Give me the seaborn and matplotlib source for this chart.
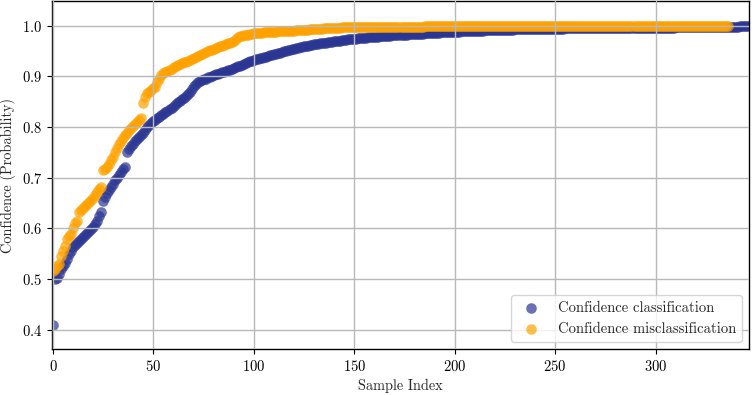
import pandas as pd
import matplotlib.pyplot as plt
import seaborn as sns
import numpy as np

# sorted confidence values
conf_classification = [
    0.410, 0.500, 0.502, 0.510, 0.519, 0.525, 0.531, 0.540, 0.549, 0.556,
    0.564, 0.568, 0.572, 0.576, 0.580, 0.583, 0.587, 0.591, 0.595, 0.599,
    0.603, 0.608, 0.615, 0.625, 0.632, 0.655, 0.662, 0.670, 0.676, 0.682,
    0.688, 0.695, 0.700, 0.706, 0.712, 0.717, 0.722, 0.750, 0.757, 0.762,
    0.767, 0.772, 0.776, 0.780, 0.784, 0.788, 0.795, 0.800, 0.804, 0.808,
    0.812, 0.815, 0.818, 0.820, 0.823, 0.826, 0.829, 0.832, 0.835, 0.838,
    0.842, 0.846, 0.849, 0.852, 0.855, 0.858, 0.862, 0.866, 0.870, 0.875,
    0.882, 0.886, 0.889, 0.891, 0.893, 0.895, 0.896, 0.898, 0.899, 0.901,
    0.902, 0.904, 0.905, 0.906, 0.908, 0.909, 0.910, 0.912, 0.913, 0.915,
    0.916, 0.918, 0.920, 0.921, 0.923, 0.925, 0.926, 0.928, 0.930, 0.931,
    0.933, 0.934, 0.935, 0.936, 0.937, 0.938, 0.939, 0.940, 0.942, 0.943,
    0.944, 0.945, 0.946, 0.947, 0.948, 0.950, 0.951, 0.952, 0.953, 0.954,
    0.955, 0.956, 0.957, 0.958, 0.959, 0.960, 0.961, 0.961, 0.962, 0.963,
    0.964, 0.964, 0.965, 0.966, 0.966, 0.967, 0.967, 0.968, 0.969, 0.969,
    0.970, 0.970, 0.971, 0.971, 0.972, 0.972, 0.972, 0.973, 0.973, 0.974,
    0.974, 0.974, 0.975, 0.975, 0.975, 0.976, 0.976, 0.977, 0.977, 0.977,
    0.978, 0.978, 0.978, 0.979, 0.979, 0.979, 0.980, 0.980, 0.980, 0.981,
    0.981, 0.981, 0.981, 0.982, 0.982, 0.982, 0.982, 0.983, 0.983, 0.983,
    0.983, 0.984, 0.984, 0.984, 0.984, 0.985, 0.985, 0.985, 0.985, 0.986,
    0.986, 0.986, 0.986, 0.987, 0.987, 0.987, 0.987, 0.987, 0.988, 0.988,
    0.988, 0.988, 0.988, 0.989, 0.989, 0.989, 0.989, 0.989, 0.989, 0.990,
    0.990, 0.990, 0.990, 0.990, 0.990, 0.991, 0.991, 0.991, 0.991, 0.991,
    0.991, 0.991, 0.992, 0.992, 0.992, 0.992, 0.992, 0.992, 0.992, 0.992,
    0.993, 0.993, 0.993, 0.993, 0.993, 0.993, 0.993, 0.993, 0.993, 0.993,
    0.994, 0.994, 0.994, 0.994, 0.994, 0.994, 0.994, 0.994, 0.994, 0.994,
    0.994, 0.994, 0.994, 0.994, 0.994, 0.995, 0.995, 0.995, 0.995, 0.995,
    0.995, 0.995, 0.995, 0.995, 0.995, 0.995, 0.995, 0.995, 0.995, 0.995,
    0.995, 0.995, 0.995, 0.995, 0.995, 0.995, 0.995, 0.995, 0.995, 0.995,
    0.996, 0.996, 0.996, 0.996, 0.996, 0.996, 0.996, 0.996, 0.996, 0.996,
    0.996, 0.996, 0.996, 0.996, 0.996, 0.996, 0.996, 0.996, 0.996, 0.996,
    0.996, 0.996, 0.996, 0.996, 0.996, 0.996, 0.996, 0.996, 0.996, 0.996,
    0.997, 0.997, 0.997, 0.997, 0.997, 0.997, 0.997, 0.997, 0.997, 0.997,
    0.997, 0.997, 0.997, 0.997, 0.997, 0.997, 0.997, 0.997, 0.997, 0.997,
    0.998, 0.998, 0.998, 0.998, 0.998, 0.998, 0.998, 0.998, 0.998, 0.998,
    0.998, 0.998, 0.999, 0.999, 0.999, 1.000, 1.000,
]

conf_misclassification = [
    0.515, 0.520, 0.525, 0.530, 0.545, 0.555, 0.565, 0.580, 0.585, 0.590,
    0.600, 0.610, 0.615, 0.632, 0.637, 0.641, 0.645, 0.649, 0.653, 0.657,
    0.661, 0.666, 0.672, 0.677, 0.681, 0.715, 0.718, 0.722, 0.728, 0.735,
    0.742, 0.750, 0.758, 0.766, 0.773, 0.779, 0.785, 0.789, 0.794, 0.798,
    0.802, 0.806, 0.810, 0.814, 0.818, 0.848, 0.860, 0.868, 0.870, 0.873,
    0.877, 0.880, 0.890, 0.896, 0.902, 0.906, 0.909, 0.911, 0.913, 0.915,
    0.918, 0.920, 0.922, 0.924, 0.926, 0.928, 0.929, 0.931, 0.933, 0.935,
    0.937, 0.939, 0.941, 0.943, 0.945, 0.946, 0.948, 0.950, 0.952, 0.953,
    0.955, 0.957, 0.958, 0.960, 0.961, 0.963, 0.964, 0.966, 0.967, 0.969,
    0.971, 0.974, 0.977, 0.979, 0.980, 0.981, 0.981, 0.982, 0.983, 0.984,
    0.985, 0.985, 0.986, 0.986, 0.986, 0.987, 0.987, 0.987, 0.988, 0.988,
    0.988, 0.988, 0.989, 0.989, 0.989, 0.989, 0.990, 0.990, 0.990, 0.990,
    0.990, 0.991, 0.991, 0.991, 0.992, 0.992, 0.992, 0.992, 0.993, 0.993,
    0.993, 0.993, 0.994, 0.994, 0.994, 0.995, 0.995, 0.995, 0.995, 0.996,
    0.996, 0.996, 0.996, 0.996, 0.997, 0.997, 0.997, 0.997, 0.997, 0.997,
    0.997, 0.997, 0.997, 0.997, 0.997, 0.998, 0.998, 0.998, 0.998, 0.998,
    0.998, 0.998, 0.998, 0.998, 0.998, 0.998, 0.998, 0.998, 0.998, 0.998,
    0.998, 0.998, 0.998, 0.998, 0.998, 0.998, 0.998, 0.998, 0.998, 0.998,
    0.998, 0.998, 0.998, 0.998, 0.998, 0.999, 0.999, 0.999, 0.999, 0.999,
    0.999, 0.999, 0.999, 0.999, 0.999, 0.999, 0.999, 0.999, 0.999, 0.999,
    0.999, 0.999, 0.999, 0.999, 0.999, 0.999, 0.999, 0.999, 0.999, 0.999,
    0.999, 0.999, 0.999, 0.999, 0.999, 0.999, 0.999, 0.999, 0.999, 0.999,
    0.999, 0.999, 0.999, 0.999, 0.999, 0.999, 0.999, 0.999, 0.999, 0.999,
    0.999, 0.999, 0.999, 0.999, 0.999, 0.999, 0.999, 0.999, 0.999, 0.999,
    0.999, 0.999, 0.999, 0.999, 0.999, 0.999, 0.999, 0.999, 0.999, 0.999,
    0.999, 0.999, 0.999, 0.999, 0.999, 0.999, 0.999, 0.999, 0.999, 0.999,
    0.999, 0.999, 0.999, 0.999, 0.999, 0.999, 0.999, 0.999, 0.999, 0.999,
    1.000, 1.000, 1.000, 1.000, 1.000, 1.000, 1.000, 1.000, 1.000, 1.000,
    1.000, 1.000, 1.000, 1.000, 1.000, 1.000, 1.000, 1.000, 1.000, 1.000,
    1.000, 1.000, 1.000, 1.000, 1.000, 1.000, 1.000, 1.000, 1.000, 1.000,
    1.000, 1.000, 1.000, 1.000, 1.000, 1.000, 1.000, 1.000, 1.000, 1.000,
    1.000, 1.000, 1.000, 1.000, 1.000, 1.000, 1.000, 1.000, 1.000, 1.000,
    1.000, 1.000, 1.000, 1.000, 1.000, 1.000, 1.000, 1.000, 1.000, 1.000,
    1.000, 1.000, 1.000, 1.000, 1.000, 1.000, 1.000,
]

labels = ["Confidence classification", "Confidence misclassification"]
colors = ["#2b3693", "#ffa200"]

sns.set_style("ticks")
plt.rcParams["font.family"] = ["cmr10", "DejaVu Serif"]
plt.rcParams["axes.formatter.use_mathtext"] = True

fig, ax = plt.subplots(figsize=(7.54, 3.95), dpi=100)

df1 = pd.DataFrame({"idx": np.arange(len(conf_classification)), "conf": conf_classification})
df2 = pd.DataFrame({"idx": np.arange(len(conf_misclassification)), "conf": conf_misclassification})

sns.scatterplot(data=df1, x="idx", y="conf", color=colors[0], alpha=0.7, s=58,
                linewidth=0, label=labels[0], ax=ax)
sns.scatterplot(data=df2, x="idx", y="conf", color=colors[1], alpha=0.7, s=58,
                linewidth=0, label=labels[1], ax=ax)

ax.set_xlim(-0.5, len(conf_classification) - 0.5)
ax.set_ylim(0.362, 1.049)
ax.set_xticks([0, 50, 100, 150, 200, 250, 300])
ax.set_yticks([0.4, 0.5, 0.6, 0.7, 0.8, 0.9, 1.0])
ax.grid(True, color="#b8b8b8", linewidth=1.0, zorder=3)
ax.set_axisbelow(False)
for sp in ax.spines.values():
    sp.set_color("black")
    sp.set_linewidth(1.0)
ax.tick_params(colors="black", labelsize=10.5)

ax.set_xlabel("Sample Index", fontsize=10.3)
ax.set_ylabel("Confidence (Probability)", fontsize=10.3)
leg = ax.legend(loc="lower right", fontsize=10.5, frameon=True, fancybox=True)
leg.get_frame().set_edgecolor("#cccccc")
leg.set_zorder(5)

fig.subplots_adjust(left=52 / 754, right=749 / 754, top=1 - 1 / 395, bottom=1 - 349 / 395)
plt.savefig("out.png", format="png")
